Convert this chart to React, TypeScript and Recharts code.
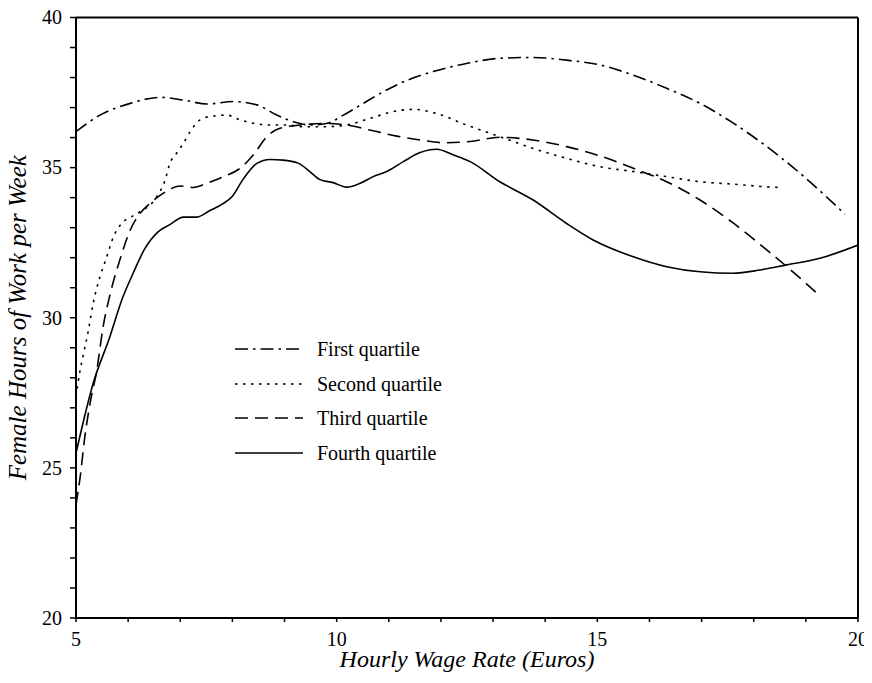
import React from "react";
import {
  LineChart,
  Line,
  XAxis,
  YAxis,
  ReferenceLine,
  Legend,
  Label,
} from "recharts";

const xTicks = [5, 6, 7, 8, 9, 10, 11, 12, 13, 14, 15, 16, 17, 18, 19, 20];
const xTickLabels = [5, 10, 15, 20];
const yTicks = [20, 21, 22, 23, 24, 25, 26, 27, 28, 29, 30, 31, 32, 33, 34, 35, 36, 37, 38, 39, 40];
const yTickLabels = [20, 25, 30, 35, 40];

const seriesNames = ["First quartile", "Second quartile", "Third quartile", "Fourth quartile"];

const q1X = [5, 5.46, 6.04, 6.61, 7.06, 7.51, 8.02, 8.47, 8.85, 9.17, 9.5, 9.8, 10.13, 10.51, 10.9, 11.34, 11.85, 12.49, 13.13, 13.77, 14.41, 15.05, 15.69, 16.33, 16.97, 17.61, 18.25, 18.89, 19.53, 19.75];
const q1Y = [36.2, 36.75, 37.14, 37.34, 37.25, 37.12, 37.2, 37.09, 36.75, 36.53, 36.42, 36.47, 36.75, 37.14, 37.53, 37.9, 38.2, 38.47, 38.64, 38.67, 38.58, 38.42, 38.08, 37.64, 37.14, 36.48, 35.7, 34.81, 33.81, 33.45];

const q2X = [5, 5.08, 5.14, 5.24, 5.33, 5.46, 5.56, 5.72, 5.88, 6.07, 6.23, 6.55, 6.71, 6.8, 6.93, 7.06, 7.19, 7.38, 7.63, 7.89, 8.15, 8.4, 8.72, 9.04, 9.36, 9.74, 10.19, 10.64, 11.15, 11.47, 11.92, 12.49, 13.13, 13.77, 14.41, 15.05, 15.69, 16.33, 16.97, 17.61, 18.25, 18.5];
const q2Y = [27.37, 28.26, 28.76, 29.6, 30.48, 31.37, 31.87, 32.7, 33.15, 33.37, 33.53, 34.03, 34.59, 35.14, 35.48, 35.81, 36.2, 36.59, 36.72, 36.75, 36.59, 36.48, 36.42, 36.42, 36.36, 36.36, 36.42, 36.64, 36.89, 36.94, 36.8, 36.42, 36.03, 35.64, 35.31, 35.03, 34.87, 34.7, 34.53, 34.45, 34.36, 34.34];

const q3X = [5, 5.08, 5.17, 5.27, 5.4, 5.52, 5.65, 5.84, 6.04, 6.23, 6.42, 6.67, 6.99, 7.25, 7.51, 7.83, 8.15, 8.4, 8.66, 8.91, 9.3, 9.74, 10.19, 10.64, 11.15, 11.6, 12.05, 12.56, 13.13, 13.77, 14.41, 15.05, 15.69, 16.33, 16.97, 17.61, 18.25, 18.89, 19.21];
const q3Y = [23.77, 24.7, 26.04, 27.15, 28.26, 29.7, 30.75, 31.92, 32.92, 33.48, 33.81, 34.14, 34.39, 34.34, 34.48, 34.7, 34.98, 35.42, 36.03, 36.31, 36.42, 36.47, 36.42, 36.25, 36.05, 35.92, 35.83, 35.87, 36.01, 35.92, 35.7, 35.39, 34.98, 34.53, 33.92, 33.15, 32.26, 31.32, 30.82];

const q4X = [5, 5.33, 5.65, 5.88, 6.1, 6.32, 6.58, 6.8, 7.06, 7.31, 7.57, 7.82, 8.0, 8.2, 8.47, 8.72, 8.97, 9.26, 9.49, 9.68, 9.93, 10.19, 10.45, 10.7, 10.96, 11.28, 11.6, 11.92, 12.24, 12.56, 13.13, 13.77, 14.41, 14.92, 15.69, 16.33, 16.97, 17.6, 18.12, 18.63, 19.27, 20];
const q4Y = [25.49, 27.82, 29.37, 30.6, 31.5, 32.3, 32.87, 33.1, 33.35, 33.35, 33.57, 33.8, 34.05, 34.6, 35.14, 35.27, 35.25, 35.15, 34.86, 34.6, 34.5, 34.35, 34.48, 34.7, 34.87, 35.2, 35.5, 35.61, 35.42, 35.2, 34.53, 33.92, 33.14, 32.59, 32.03, 31.7, 31.53, 31.48, 31.59, 31.76, 31.98, 32.42];

const toData = (xs: number[], ys: number[]) => xs.map((x, i) => ({ x, y: ys[i] }));

const series = [
  { name: seriesNames[0], data: toData(q1X, q1Y), dash: "13 5 2.5 5" },
  { name: seriesNames[1], data: toData(q2X, q2Y), dash: "2.5 5.5" },
  { name: seriesNames[2], data: toData(q3X, q3Y), dash: "13 7" },
  { name: seriesNames[3], data: toData(q4X, q4Y), dash: undefined as string | undefined },
];

const FONT = "Liberation Serif, Times New Roman, Times, DejaVu Serif, serif";

const XTick = (props: any) => {
  const { x, y, payload } = props;
  const v = payload.value;
  if (!xTickLabels.includes(v)) return null;
  return (
    <text x={x} y={y} dy="0.71em" textAnchor="middle" style={{ fontFamily: FONT, fontSize: 20 }} fill="#000">
      {v}
    </text>
  );
};

const YTick = (props: any) => {
  const { x, y, payload } = props;
  const v = payload.value;
  if (!yTickLabels.includes(v)) return null;
  return (
    <text x={x} y={y} dy="0.34em" textAnchor="end" style={{ fontFamily: FONT, fontSize: 20 }} fill="#000">
      {v}
    </text>
  );
};

const renderLegend = () => (
  <div style={{ fontFamily: FONT, fontSize: 20, color: "#000" }}>
    {series.map((s) => (
      <div key={s.name} style={{ display: "flex", alignItems: "center", height: 34.7 }}>
        <svg width={68} height={10} style={{ marginRight: 14, flex: "none" }}>
          <line x1={0} y1={5} x2={68} y2={5} stroke="#000" strokeWidth={1.6} strokeDasharray={s.dash} />
        </svg>
        <span style={{ lineHeight: 1, whiteSpace: "nowrap" }}>{s.name}</span>
      </div>
    ))}
  </div>
);

export default function App() {
  return (
    <div style={{ width: 864, height: 667, fontFamily: FONT }}>
      <LineChart width={864} height={667} margin={{ top: 9.5, right: 14, left: 8, bottom: 7 }} style={{ fontFamily: FONT }}>
        <XAxis
          type="number"
          dataKey="x"
          domain={[5, 20]}
          ticks={xTicks}
          interval={0}
          allowDataOverflow
          height={50}
          tickSize={4}
          tickMargin={10}
          axisLine={{ stroke: "#000", strokeWidth: 2 }}
          tickLine={{ stroke: "#000", strokeWidth: 1.5 }}
          tick={<XTick />}
        >
          <Label
            content={(p: any) => {
              const vb = p.viewBox;
              return (
                <text
                  x={vb.x + vb.width / 2}
                  y={vb.y + 49}
                  textAnchor="middle"
                  style={{ fontFamily: FONT, fontStyle: "italic", fontSize: 24 }}
                  fill="#000"
                >
                  Hourly Wage Rate (Euros)
                </text>
              );
            }}
          />
        </XAxis>
        <YAxis
          type="number"
          domain={[20, 40]}
          ticks={yTicks}
          interval={0}
          allowDataOverflow
          width={60}
          tickSize={6}
          tickMargin={8}
          axisLine={{ stroke: "#000", strokeWidth: 2 }}
          tickLine={{ stroke: "#000", strokeWidth: 1.5 }}
          tick={<YTick />}
        >
          <Label
            content={(p: any) => {
              const vb = p.viewBox;
              const cx = 18;
              const cy = vb.y + vb.height / 2;
              return (
                <text
                  x={cx}
                  y={cy}
                  transform={`rotate(-90, ${cx}, ${cy})`}
                  textAnchor="middle"
                  style={{ fontFamily: FONT, fontStyle: "italic", fontSize: 25 }}
                  fill="#000"
                >
                  Female Hours of Work per Week
                </text>
              );
            }}
          />
        </YAxis>
        <ReferenceLine y={40} stroke="#000" strokeWidth={2} />
        <ReferenceLine x={20} stroke="#000" strokeWidth={2} />
        <Legend
          content={renderLegend}
          layout="horizontal"
          verticalAlign="middle"
          align="center"
          wrapperStyle={{ position: "absolute", left: 227, top: 323.6, width: 260 }}
        />
        {series.map((s) => (
          <Line
            key={s.name}
            data={s.data}
            dataKey="y"
            name={s.name}
            type="monotone"
            stroke="#000"
            strokeWidth={1.6}
            strokeDasharray={s.dash}
            dot={false}
            activeDot={false}
            isAnimationActive={false}
          />
        ))}
      </LineChart>
    </div>
  );
}
